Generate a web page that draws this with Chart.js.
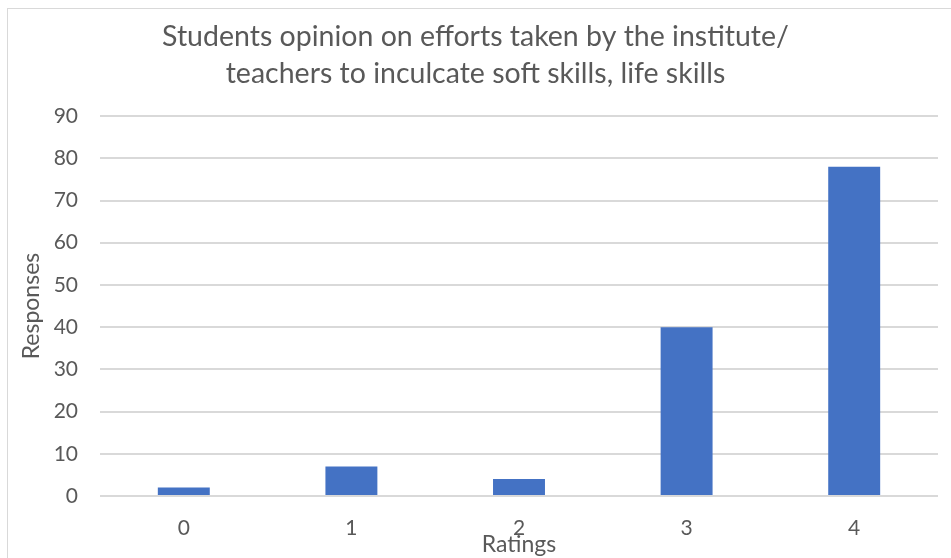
<!DOCTYPE html>
<html lang="en">
<head>
  <meta charset="UTF-8">
  <title>Students opinion chart</title>
  <style>
    body { margin: 0; background: #fff; }
    #wrap { position: absolute; left: 0; top: 0; width: 951px; height: 558px; }
    #frame {
      position: absolute; left: 7px; top: 8px; width: 960px; height: 560px;
      border: 1px solid #d9d9d9; pointer-events: none;
    }
  </style>
  <script src="https://cdn.jsdelivr.net/npm/chart.js@4"></script>
</head>
<body>
  <div id="wrap">
    <canvas id="myChart" width="951" height="558"></canvas>
    <div id="frame"></div>
  </div>

<script>
// data
var ratings = ['0', '1', '2', '3', '4'];
var responses = [2, 7, 4, 40, 78];
var titleLines = ['Students opinion on efforts taken by the institute/',
                  'teachers to inculcate soft skills, life skills'];

var fontFam = 'Lato, "Open Sans", sans-serif';
var grey = '#595959';

var ctx = document.getElementById('myChart').getContext('2d');
var chart = new Chart(ctx, {
  type: 'bar',
  data: {
    labels: ratings,
    datasets: [{
      label: 'Responses',
      data: responses,
      backgroundColor: '#4472c4',
      barPercentage: 0.31,
      categoryPercentage: 1
    }]
  },
  options: {
    responsive: false,
    animation: false,
    layout: { padding: { left: 13, right: 13, top: 0, bottom: 0 } },
    plugins: {
      legend: { display: false },
      tooltip: { enabled: false },
      title: {
        display: true,
        text: titleLines,
        color: grey,
        font: { family: fontFam, size: 28.5, weight: 'normal', lineHeight: 1.3 },
        padding: { top: 18, bottom: 24 }
      }
    },
    scales: {
      x: {
        grid: { display: false, drawTicks: false },
        border: { display: false },
        ticks: { color: grey, font: { family: fontFam, size: 21 }, padding: 20 },
        title: {
          display: true, text: 'Ratings', color: grey,
          font: { family: fontFam, size: 23 }, padding: { top: 0, bottom: 0 }
        },
        afterFit: function (s) { s.height = 62; }
      },
      y: {
        min: 0, max: 90,
        ticks: { stepSize: 10, color: grey, font: { family: fontFam, size: 21 }, padding: 22 },
        grid: { color: '#d9d9d9', lineWidth: 2, drawTicks: false },
        border: { display: false },
        title: {
          display: true, text: 'Responses', color: grey,
          font: { family: fontFam, size: 23 }, padding: { top: 5, bottom: 0 }
        },
        afterFit: function (s) { s.width = 87; }
      }
    }
  }
});
</script>
</body>
</html>
